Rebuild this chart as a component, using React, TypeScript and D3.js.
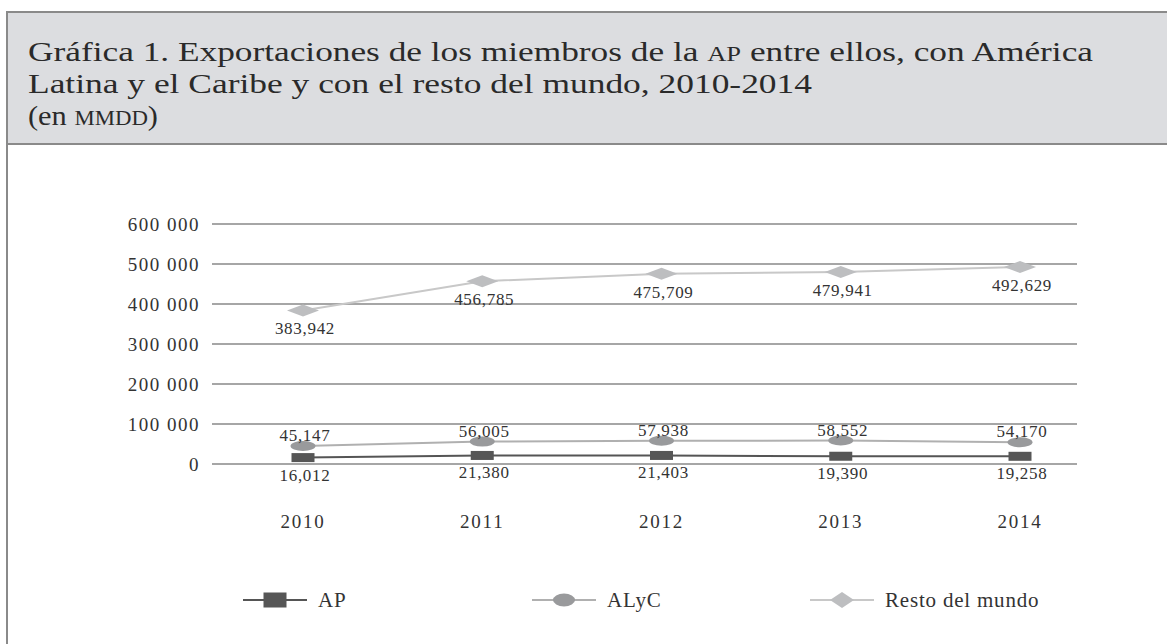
import React, { useEffect, useRef } from 'react'
import * as d3 from 'd3'

const years = ['2010', '2011', '2012', '2013', '2014']
const apValues = [16012, 21380, 21403, 19390, 19258]
const alycValues = [45147, 56005, 57938, 58552, 54170]
const restoValues = [383942, 456785, 475709, 479941, 492629]
const yTicks = [0, 100000, 200000, 300000, 400000, 500000, 600000]
const seriesNames = ['AP', 'ALyC', 'Resto del mundo']

const W = 1167
const H = 644
const FONT = '"Liberation Serif", "DejaVu Serif", serif'

const App = () => {
  const ref = useRef<SVGSVGElement>(null)

  useEffect(() => {
    const svg = d3.select(ref.current)
    svg.selectAll('*').remove()

    // marco y cabecera
    svg.append('rect')
      .attr('x', 7).attr('y', 12).attr('width', W).attr('height', H)
      .attr('fill', '#fff').attr('stroke', '#8a8a8a').attr('stroke-width', 2)
    svg.append('rect')
      .attr('x', 7).attr('y', 12).attr('width', W).attr('height', 132)
      .attr('fill', '#dcdde0').attr('stroke', '#8a8a8a').attr('stroke-width', 2)

    const title = svg.append('g')
      .attr('font-family', FONT).attr('fill', '#2a2a2a').attr('font-size', 28)
    const t1 = title.append('text').attr('x', 28).attr('y', 61)
      .attr('textLength', 1065).attr('lengthAdjust', 'spacingAndGlyphs')
    t1.append('tspan').text('Gráfica 1. Exportaciones de los miembros de la ')
    t1.append('tspan').attr('font-size', 21).text('AP')
    t1.append('tspan').text(' entre ellos, con América')
    title.append('text').attr('x', 28).attr('y', 93)
      .attr('textLength', 784).attr('lengthAdjust', 'spacingAndGlyphs')
      .text('Latina y el Caribe y con el resto del mundo, 2010-2014')
    const t3 = title.append('text').attr('x', 28).attr('y', 125)
      .attr('textLength', 130).attr('lengthAdjust', 'spacingAndGlyphs')
    t3.append('tspan').text('(en ')
    t3.append('tspan').attr('font-size', 21).text('MMDD')
    t3.append('tspan').text(')')

    const left = 212
    const right = 1077

    const x = d3.scalePoint().domain(years).range([303, 1020])
    const y = d3.scaleLinear().domain([0, 600000]).range([464, 224])

    // rejilla y eje y
    svg.append('g')
      .selectAll('line')
      .data(yTicks)
      .join('line')
      .attr('x1', left).attr('x2', right)
      .attr('y1', (d) => y(d)).attr('y2', (d) => y(d))
      .attr('stroke', '#888').attr('stroke-width', 1.6)

    const fmtTick = (d: number) => (d === 0 ? '0' : d3.format(',')(d).replace(/,/g, ' '))
    svg.append('g')
      .attr('font-family', FONT).attr('font-size', 19).attr('fill', '#333')
      .attr('text-anchor', 'end')
      .selectAll('text')
      .data(yTicks)
      .join('text')
      .attr('x', 200)
      .attr('y', (d) => y(d))
      .attr('dy', '0.35em')
      .attr('letter-spacing', 1.5)
      .text(fmtTick)

    // años
    svg.append('g')
      .attr('font-family', FONT).attr('font-size', 19).attr('fill', '#333')
      .attr('text-anchor', 'middle')
      .selectAll('text')
      .data(years)
      .join('text')
      .attr('x', (d) => x(d)!)
      .attr('y', 528)
      .attr('letter-spacing', 1.75)
      .text((d) => d)

    const series = [
      { name: seriesNames[0], values: apValues, color: '#565656', line: '#555', shape: 'rect', labelDy: 23 },
      { name: seriesNames[1], values: alycValues, color: '#999a9c', line: '#b0b0b0', shape: 'ellipse', labelDy: -5 },
      { name: seriesNames[2], values: restoValues, color: '#bdbec0', line: '#c8c8c8', shape: 'diamond', labelDy: 24 },
    ]

    const line = d3.line<number>()
      .x((_, i) => x(years[i])!)
      .y((d) => y(d))

    const drawMarker = (g: any, shape: string, color: string, cx: number, cy: number, w: number, h: number) => {
      if (shape === 'rect') {
        g.append('rect').attr('x', cx - w / 2).attr('y', cy - h / 2)
          .attr('width', w).attr('height', h).attr('fill', color)
      } else if (shape === 'ellipse') {
        g.append('ellipse').attr('cx', cx).attr('cy', cy)
          .attr('rx', w / 2).attr('ry', h / 2).attr('fill', color)
      } else {
        g.append('path')
          .attr('d', `M${cx - w / 2},${cy}L${cx},${cy - h / 2}L${cx + w / 2},${cy}L${cx},${cy + h / 2}Z`)
          .attr('fill', color)
      }
    }

    const sizes: Record<string, [number, number]> = {
      rect: [23, 9],
      ellipse: [25, 10],
      diamond: [32, 12],
    }

    // dibujar de atrás hacia delante
    ;[...series].reverse().forEach((s) => {
      const g = svg.append('g')
      g.append('path')
        .datum(s.values)
        .attr('d', line)
        .attr('fill', 'none')
        .attr('stroke', s.line)
        .attr('stroke-width', 2)
      s.values.forEach((v, i) => {
        const [w, h] = sizes[s.shape]
        drawMarker(g, s.shape, s.color, x(years[i])!, y(v), w, h)
      })
      g.append('g')
        .attr('font-family', FONT).attr('font-size', 17).attr('fill', '#333')
        .attr('text-anchor', 'middle')
        .selectAll('text')
        .data(s.values)
        .join('text')
        .attr('x', (_, i) => x(years[i])! + 2)
        .attr('y', (d) => y(d) + s.labelDy)
        .attr('letter-spacing', 0.7)
        .text((d) => d3.format(',')(d))
    })

    // leyenda
    const legendX = [243, 532, 810]
    const lg = svg.append('g')
    series.forEach((s, i) => {
      const lx = legendX[i]
      const cy = 600
      lg.append('line')
        .attr('x1', lx).attr('x2', lx + 64)
        .attr('y1', cy).attr('y2', cy)
        .attr('stroke', s.line).attr('stroke-width', 2)
      const ls: Record<string, [number, number]> = { rect: [23, 15], ellipse: [22, 13], diamond: [24, 16] }
      drawMarker(lg, s.shape, s.color, lx + 32, cy, ls[s.shape][0], ls[s.shape][1])
      lg.append('text')
        .attr('x', lx + 75).attr('y', cy).attr('dy', '0.35em')
        .attr('font-family', FONT).attr('font-size', 21).attr('fill', '#333')
        .attr('letter-spacing', 0.8)
        .text(s.name)
    })
  }, [])

  return (
    <svg
      ref={ref}
      width={W}
      height={H}
      style={{ position: 'absolute', left: 0, top: 0, background: '#fff' }}
    />
  )
}

export default App
